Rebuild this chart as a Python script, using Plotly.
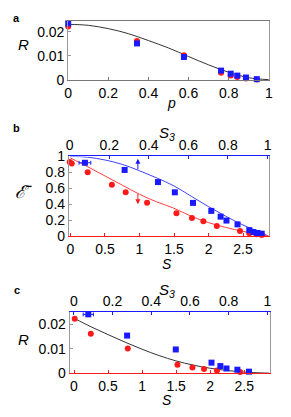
import plotly.graph_objects as go

# ---------------- Panel a data ----------------
a_p = [0.0, 0.343, 0.577, 0.762, 0.81, 0.843, 0.886, 0.94]
a_red_R = [0.0223, 0.0162, 0.0102, 0.0029, 0.0017, 0.0011, 0.0005, 0.0001]
a_blue_R = [0.0236, 0.0152, 0.0095, 0.0038, 0.0025, 0.0017, 0.0009, 0.0002]
a_curve_p = [0.0, 0.1, 0.2, 0.3, 0.4, 0.5, 0.6, 0.7, 0.8, 0.9, 1.0]
a_curve_R = [0.0232, 0.0228, 0.0214, 0.0193, 0.0164, 0.0133, 0.0097, 0.0062, 0.0031, 0.0008, 0.0]
a_xticks = [0, 0.2, 0.4, 0.6, 0.8, 1]
a_xticktext = ["0", "0.2", "0.4", "0.6", "0.8", "1"]
a_yticks = [0, 0.01, 0.02]
a_yticktext = ["0", "0.01", "0.02"]

# ---------------- Panel b data ----------------
b_red_S = [-0.01, 0.02, 0.25, 0.6, 0.8, 1.11, 1.535, 1.76, 1.925, 2.12, 2.456, 2.59, 2.69, 2.77]
b_red_E = [0.93, 0.91, 0.80, 0.646, 0.55, 0.42, 0.289, 0.229, 0.188, 0.128, 0.064, 0.036, 0.024, 0.016]
b_blue_S = [0.21, 0.785, 1.268, 1.512, 1.775, 2.04, 2.175, 2.26, 2.42, 2.59, 2.65, 2.71, 2.77]
b_blue_E = [0.92, 0.83, 0.678, 0.55, 0.417, 0.317, 0.245, 0.196, 0.148, 0.076, 0.052, 0.04, 0.031]
b_blue_err = [0.085, 0, 0, 0, 0, 0, 0, 0, 0, 0, 0, 0, 0]
b_blue_curve_S = [0.0, 0.25, 0.5, 0.75, 1.0, 1.25, 1.5, 1.75, 2.0, 2.25, 2.5, 2.75, 2.87]
b_blue_curve_E = [1.0, 0.99, 0.955, 0.9, 0.82, 0.73, 0.63, 0.5, 0.37, 0.25, 0.14, 0.05, 0.0]
b_red_curve_S = [0.0, 0.25, 0.5, 0.75, 1.0, 1.25, 1.5, 1.75, 2.0, 2.25, 2.5, 2.75, 2.87]
b_red_curve_E = [0.98, 0.87, 0.755, 0.64, 0.525, 0.43, 0.35, 0.25, 0.17, 0.11, 0.06, 0.025, 0.0]
b_arrow_S = 0.977
b_blue_arrow_E = [0.82, 0.97]   # tail, head
b_red_arrow_E = [0.55, 0.40]    # tail, head
b_yticks = [0, 0.2, 0.4, 0.6, 0.8, 1]
b_yticktext = ["0", "0.2", "0.4", "0.6", "0.8", "1"]

S_ticks = [0, 0.5, 1, 1.5, 2, 2.5]
S_ticktext = ["0", "0.5", "1", "1.5", "2", "2.5"]
S3_ticks = [0, 0.2, 0.4, 0.6, 0.8, 1]
S3_ticktext = ["0", "0.2", "0.4", "0.6", "0.8", "1"]

# ---------------- Panel c data ----------------
c_red_S = [0.01, 0.247, 0.79, 1.52, 1.74, 1.91, 2.1, 2.44]
c_red_R = [0.0223, 0.0161, 0.0101, 0.0034, 0.0023, 0.0017, 0.0011, 0.0005]
c_blue_S = [0.21, 0.78, 1.495, 2.02, 2.15, 2.24, 2.4, 2.57]
c_blue_R = [0.0241, 0.0154, 0.0097, 0.0043, 0.0029, 0.0019, 0.0014, 0.0006]
c_blue_err = [0.075, 0, 0, 0, 0, 0, 0, 0]
c_curve_S = [0.0, 0.25, 0.5, 0.75, 1.0, 1.25, 1.5, 1.75, 2.0, 2.25, 2.5, 2.75, 2.87]
c_curve_R = [0.0225, 0.019, 0.0158, 0.0127, 0.0098, 0.0072, 0.005, 0.0033, 0.002, 0.0011, 0.0004, 0.0001, 0.0]
c_yticks = [0, 0.01, 0.02]
c_yticktext = ["0", "0.01", "0.02"]

W, H = 291, 417
RED = "#ff1a1a"
BLUE = "#1a1aff"
GRAY = "#9a9a9a"
FONT = "Liberation Sans"
TICKFONT = dict(family=FONT, size=14, color="black")


def px_x(x):
    return x / W


def px_y(y):
    return 1 - y / H


fig = go.Figure()

# Panel a
fig.add_trace(go.Scatter(x=a_curve_p, y=a_curve_R, mode="lines", line=dict(color="#333333", width=1, shape="spline"),
                         xaxis="x", yaxis="y", showlegend=False, hoverinfo="skip"))
fig.add_trace(go.Scatter(x=a_p, y=a_red_R, mode="markers", marker=dict(color=RED, size=6, symbol="circle"),
                         xaxis="x", yaxis="y", showlegend=False, cliponaxis=False))
fig.add_trace(go.Scatter(x=a_p, y=a_blue_R, mode="markers", marker=dict(color=BLUE, size=6, symbol="square"),
                         xaxis="x", yaxis="y", showlegend=False, cliponaxis=False))

# Panel b
fig.add_trace(go.Scatter(x=b_blue_curve_S, y=b_blue_curve_E, mode="lines", line=dict(color="#4040ff", width=1, shape="spline"),
                         xaxis="x2", yaxis="y2", showlegend=False, hoverinfo="skip"))
fig.add_trace(go.Scatter(x=b_red_curve_S, y=b_red_curve_E, mode="lines", line=dict(color="#ff4040", width=1, shape="spline"),
                         xaxis="x2", yaxis="y2", showlegend=False, hoverinfo="skip"))
fig.add_trace(go.Scatter(x=b_red_S, y=b_red_E, mode="markers", marker=dict(color=RED, size=6, symbol="circle"),
                         xaxis="x2", yaxis="y2", showlegend=False, cliponaxis=False))
fig.add_trace(go.Scatter(x=b_blue_S, y=b_blue_E, mode="markers", marker=dict(color=BLUE, size=6, symbol="square"),
                         error_x=dict(type="data", array=b_blue_err, color=BLUE, thickness=1, width=2),
                         xaxis="x2", yaxis="y2", showlegend=False, cliponaxis=False))
fig.add_trace(go.Scatter(x=[0, 1], y=[None, None], mode="markers", xaxis="x3", yaxis="y2", showlegend=False, hoverinfo="skip"))

# Panel c
fig.add_trace(go.Scatter(x=c_curve_S, y=c_curve_R, mode="lines", line=dict(color="#333333", width=1, shape="spline"),
                         xaxis="x4", yaxis="y3", showlegend=False, hoverinfo="skip"))
fig.add_trace(go.Scatter(x=c_red_S, y=c_red_R, mode="markers", marker=dict(color=RED, size=6, symbol="circle"),
                         xaxis="x4", yaxis="y3", showlegend=False, cliponaxis=False))
fig.add_trace(go.Scatter(x=c_blue_S, y=c_blue_R, mode="markers", marker=dict(color=BLUE, size=6, symbol="square"),
                         error_x=dict(type="data", array=c_blue_err, color=BLUE, thickness=1, width=2),
                         xaxis="x4", yaxis="y3", showlegend=False, cliponaxis=False))
fig.add_trace(go.Scatter(x=[0, 1], y=[None, None], mode="markers", xaxis="x5", yaxis="y3", showlegend=False, hoverinfo="skip"))

common = dict(showgrid=False, zeroline=False, showline=True, linewidth=1, ticks="inside", ticklen=3,
              tickfont=TICKFONT, fixedrange=True)

dom_a_x = [px_x(66), px_x(272.3)]
dom_a_y = [px_y(75), px_y(13.3)]
dom_b_x = [px_x(66.7), px_x(272.3)]
dom_b_y = [px_y(237.3), px_y(154.3)]
dom_c_x = [px_x(67.5), px_x(273.3)]
dom_c_y = [px_y(379.7), px_y(316.3)]

fig.update_layout(
    width=W, height=H, margin=dict(l=0, r=0, t=0, b=0),
    paper_bgcolor="white", plot_bgcolor="white", showlegend=False,
    font=dict(family=FONT, color="black"),
    xaxis=dict(**common, domain=dom_a_x, anchor="y", range=[0, 1], tickvals=a_xticks, ticktext=a_xticktext,
               linecolor="#777777", tickcolor="#777777", mirror=True),
    yaxis=dict(**common, domain=dom_a_y, anchor="x", range=[-0.0002, 0.0247], tickvals=a_yticks, ticktext=a_yticktext,
               linecolor=GRAY, tickcolor=GRAY, mirror=True),
    xaxis2=dict(**common, domain=dom_b_x, anchor="y2", range=[-0.0225, 2.873], tickvals=S_ticks, ticktext=S_ticktext,
                linecolor=RED, tickcolor=RED),
    xaxis3=dict(**common, domain=dom_b_x, anchor="y2", overlaying="x2", side="top", range=[-0.0044, 1.0064],
                tickvals=S3_ticks, ticktext=S3_ticktext, linecolor=BLUE, tickcolor=BLUE),
    yaxis2=dict(**common, domain=dom_b_y, anchor="x2", range=[0, 1], tickvals=b_yticks, ticktext=b_yticktext,
                linecolor=GRAY, tickcolor=GRAY, mirror=True),
    xaxis4=dict(**common, domain=dom_c_x, anchor="y3", range=[-0.064, 2.876], tickvals=S_ticks, ticktext=S_ticktext,
                linecolor=RED, tickcolor=RED),
    xaxis5=dict(**common, domain=dom_c_x, anchor="y3", overlaying="x4", side="top", range=[-0.0216, 1.0126],
                tickvals=S3_ticks, ticktext=S3_ticktext, linecolor=BLUE, tickcolor=BLUE),
    yaxis3=dict(**common, domain=dom_c_y, anchor="x4", range=[0, 0.025], tickvals=c_yticks, ticktext=c_yticktext,
                linecolor=GRAY, tickcolor=GRAY, mirror=True),
)

# arrows in panel b
fig.add_annotation(x=b_arrow_S, y=b_blue_arrow_E[1], ax=b_arrow_S, ay=b_blue_arrow_E[0], xref="x2", yref="y2",
                   axref="x2", ayref="y2", showarrow=True, arrowhead=2, arrowsize=1, arrowwidth=1, arrowcolor=BLUE, text="")
fig.add_annotation(x=b_arrow_S, y=b_red_arrow_E[1], ax=b_arrow_S, ay=b_red_arrow_E[0], xref="x2", yref="y2",
                   axref="x2", ayref="y2", showarrow=True, arrowhead=2, arrowsize=1, arrowwidth=1, arrowcolor=RED, text="")

labels = [
    ("<b>a</b>", 13, 10, 11),
    ("<b>b</b>", 13, 125, 11),
    ("<b>c</b>", 13, 293, 11),
    ("<i>R</i>", 20, 38, 15),
    ("<i>p</i>", 172, 99, 14),
    ("<i>S<sub>3</sub></i>", 168, 130, 15),
    ("<i>S</i>", 168, 266, 14),
    ("<i>\u2130\u0304</i>", 20, 191, 18),
    ("<i>S<sub>3</sub></i>", 168, 294, 15),
    ("<i>R</i>", 20, 345, 15),
    ("<i>S</i>", 168, 408, 14),
]
for txt, x, y, s in labels:
    fig.add_annotation(text=txt, x=px_x(x), y=px_y(y), xref="paper", yref="paper", showarrow=False,
                       xanchor="center", yanchor="middle", font=dict(family=FONT, size=s, color="black"))

fig.write_html("out.html", config={"displayModeBar": False},
               post_script="document.body.style.margin='0';document.body.style.overflow='hidden';")
